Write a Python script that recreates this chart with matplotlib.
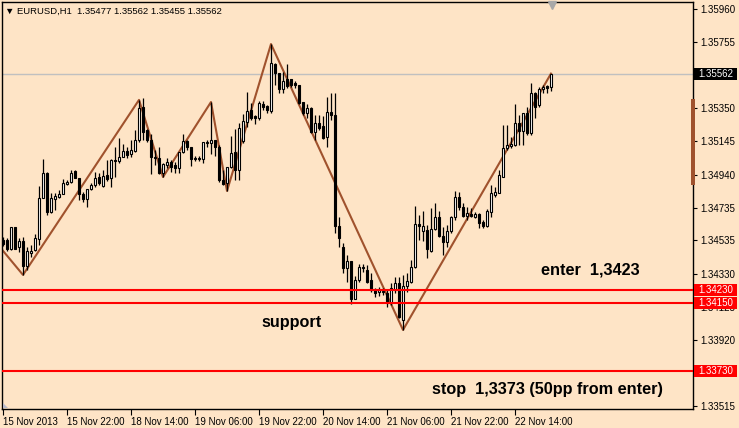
import numpy as np
import matplotlib.pyplot as plt
from matplotlib.patches import Rectangle, Polygon
from matplotlib.transforms import blended_transform_factory

plt.rcParams['font.family'] = ['Liberation Sans', 'DejaVu Sans']

# EURUSD H1 candles
opens = [1.34537, 1.34537, 1.34482, 1.34617, 1.34494, 1.34531, 1.34377, 1.34457, 1.34476, 1.34543,
         1.34796, 1.34950, 1.34710, 1.34790, 1.34802, 1.34821, 1.34882, 1.34894, 1.34962, 1.34919,
         1.34821, 1.34790, 1.34851, 1.34876, 1.34925, 1.34870, 1.34938, 1.34919, 1.35030, 1.35024,
         1.35048, 1.35085, 1.35067, 1.35085, 1.35153, 1.35356, 1.35215, 1.35153, 1.35042, 1.35042,
         1.34950, 1.34999, 1.35018, 1.34999, 1.34981, 1.35079, 1.35147, 1.35110, 1.35036, 1.35042,
         1.35036, 1.35135, 1.35135, 1.35153, 1.35110, 1.34907, 1.34888, 1.34987, 1.35079, 1.34968,
         1.35147, 1.35264, 1.35338, 1.35301, 1.35289, 1.35375, 1.35363, 1.35332, 1.35621, 1.35566,
         1.35467, 1.35529, 1.35529, 1.35504, 1.35492, 1.35387, 1.35319, 1.35350, 1.35202, 1.35258,
         1.35239, 1.35172, 1.35326, 1.35307, 1.34623, 1.34494, 1.34365, 1.34408, 1.34174, 1.34291,
         1.34371, 1.34352, 1.34291, 1.34229, 1.34217, 1.34217, 1.34211, 1.34149, 1.34229, 1.34272,
         1.34045, 1.34254, 1.34279, 1.34371, 1.34636, 1.34593, 1.34599, 1.34470, 1.34605, 1.34679,
         1.34562, 1.34525, 1.34593, 1.34679, 1.34802, 1.34741, 1.34685, 1.34697, 1.34679, 1.34697,
         1.34648, 1.34623, 1.34710, 1.34814, 1.34827, 1.34925, 1.35104, 1.35116, 1.35122, 1.35258,
         1.35209, 1.35319, 1.35196, 1.35443, 1.35369, 1.35467, 1.35486, 1.35477]
highs = [1.34556, 1.34550, 1.34617, 1.34617, 1.34550, 1.34556, 1.34494, 1.34506, 1.34574, 1.34870,
         1.35036, 1.34956, 1.34827, 1.34827, 1.34845, 1.34913, 1.34907, 1.34968, 1.34968, 1.34919,
         1.34833, 1.34851, 1.34888, 1.34956, 1.34950, 1.34968, 1.35030, 1.35036, 1.35110, 1.35165,
         1.35129, 1.35110, 1.35153, 1.35215, 1.35400, 1.35412, 1.35221, 1.35190, 1.35092, 1.35110,
         1.35011, 1.35042, 1.35030, 1.35018, 1.35079, 1.35190, 1.35153, 1.35110, 1.35055, 1.35055,
         1.35141, 1.35153, 1.35387, 1.35153, 1.35122, 1.34968, 1.34987, 1.35178, 1.35221, 1.35258,
         1.35313, 1.35449, 1.35381, 1.35307, 1.35393, 1.35393, 1.35369, 1.35744, 1.35627, 1.35566,
         1.35572, 1.35621, 1.35529, 1.35517, 1.35492, 1.35387, 1.35375, 1.35356, 1.35307, 1.35307,
         1.35301, 1.35418, 1.35443, 1.35443, 1.34679, 1.34519, 1.34445, 1.34408, 1.34316, 1.34389,
         1.34389, 1.34383, 1.34334, 1.34242, 1.34248, 1.34242, 1.34229, 1.34272, 1.34309, 1.34309,
         1.34322, 1.34334, 1.34414, 1.34747, 1.34691, 1.34716, 1.34630, 1.34734, 1.34765, 1.34716,
         1.34617, 1.34630, 1.34685, 1.34839, 1.34833, 1.34765, 1.34741, 1.34734, 1.34710, 1.34704,
         1.34660, 1.34728, 1.34876, 1.34864, 1.34968, 1.35246, 1.35246, 1.35172, 1.35375, 1.35307,
         1.35319, 1.35356, 1.35504, 1.35449, 1.35480, 1.35492, 1.35492, 1.35562]
lows = [1.34500, 1.34470, 1.34476, 1.34482, 1.34463, 1.34322, 1.34352, 1.34433, 1.34470, 1.34506,
        1.34796, 1.34691, 1.34704, 1.34722, 1.34796, 1.34821, 1.34876, 1.34888, 1.34919, 1.34784,
        1.34771, 1.34741, 1.34845, 1.34864, 1.34876, 1.34864, 1.34901, 1.34864, 1.34925, 1.35011,
        1.35048, 1.35042, 1.35048, 1.35079, 1.35141, 1.35153, 1.35141, 1.34944, 1.34999, 1.34944,
        1.34925, 1.34981, 1.34956, 1.34950, 1.34950, 1.35073, 1.35092, 1.34993, 1.35024, 1.35024,
        1.35011, 1.35110, 1.35067, 1.35055, 1.34894, 1.34876, 1.34839, 1.34981, 1.34907, 1.34907,
        1.35135, 1.35233, 1.35276, 1.35252, 1.35276, 1.35338, 1.35319, 1.35319, 1.35492, 1.35443,
        1.35443, 1.35473, 1.35480, 1.35473, 1.35375, 1.35307, 1.35289, 1.35196, 1.35153, 1.35215,
        1.35159, 1.35110, 1.35276, 1.34580, 1.34494, 1.34334, 1.34279, 1.34143, 1.34174, 1.34279,
        1.34340, 1.34272, 1.34217, 1.34186, 1.34192, 1.34198, 1.34125, 1.34137, 1.34211, 1.34057,
        1.33983, 1.34217, 1.34272, 1.34365, 1.34537, 1.34531, 1.34426, 1.34463, 1.34599, 1.34556,
        1.34445, 1.34494, 1.34580, 1.34660, 1.34722, 1.34679, 1.34660, 1.34679, 1.34673, 1.34611,
        1.34611, 1.34617, 1.34679, 1.34802, 1.34827, 1.34925, 1.35092, 1.35104, 1.35116, 1.35122,
        1.35122, 1.35184, 1.35184, 1.35289, 1.35356, 1.35443, 1.35443, 1.35455]
closes = [1.34513, 1.34482, 1.34617, 1.34482, 1.34531, 1.34377, 1.34470, 1.34470, 1.34550, 1.34796,
          1.34950, 1.34710, 1.34796, 1.34808, 1.34821, 1.34888, 1.34894, 1.34950, 1.34919, 1.34821,
          1.34790, 1.34851, 1.34876, 1.34919, 1.34888, 1.34931, 1.34913, 1.35030, 1.35024, 1.35048,
          1.35085, 1.35061, 1.35092, 1.35153, 1.35350, 1.35202, 1.35153, 1.35048, 1.35048, 1.34950,
          1.35005, 1.35018, 1.34987, 1.34981, 1.35079, 1.35147, 1.35110, 1.35036, 1.35042, 1.35036,
          1.35141, 1.35141, 1.35153, 1.35110, 1.34907, 1.34882, 1.34987, 1.35073, 1.34968, 1.35227,
          1.35270, 1.35332, 1.35289, 1.35289, 1.35381, 1.35356, 1.35338, 1.35627, 1.35566, 1.35467,
          1.35517, 1.35486, 1.35492, 1.35492, 1.35381, 1.35319, 1.35350, 1.35202, 1.35258, 1.35227,
          1.35165, 1.35326, 1.35307, 1.34623, 1.34550, 1.34365, 1.34408, 1.34174, 1.34291, 1.34371,
          1.34365, 1.34279, 1.34229, 1.34211, 1.34229, 1.34223, 1.34149, 1.34242, 1.34272, 1.34063,
          1.34254, 1.34285, 1.34371, 1.34636, 1.34623, 1.34623, 1.34482, 1.34605, 1.34679, 1.34562,
          1.34525, 1.34593, 1.34679, 1.34802, 1.34741, 1.34685, 1.34704, 1.34685, 1.34697, 1.34642,
          1.34623, 1.34716, 1.34827, 1.34833, 1.34938, 1.35104, 1.35122, 1.35129, 1.35258, 1.35209,
          1.35319, 1.35196, 1.35443, 1.35356, 1.35467, 1.35480, 1.35473, 1.35562]

# zigzag vertices (bar index, price)
zz_bars = [-1, 5, 34, 40, 52, 56, 67, 100, 137]
zz_prices = [1.34500, 1.34322, 1.35400, 1.34925, 1.35387, 1.34839, 1.35744, 1.33983, 1.35562]

level_prices = [1.34230, 1.34150, 1.33730]
last_price = 1.35562

time_ticks = [0, 16, 32, 48, 64, 80, 96, 112, 128]
time_labels = ['15 Nov 2013', '15 Nov 22:00', '18 Nov 14:00', '19 Nov 06:00', '19 Nov 22:00',
               '20 Nov 14:00', '21 Nov 06:00', '21 Nov 22:00', '22 Nov 14:00']
price_ticks = [1.35960, 1.35755, 1.35550, 1.35350, 1.35145, 1.34940, 1.34735, 1.34535,
               1.34330, 1.34125, 1.33920, 1.33720, 1.33515]
# labels hidden under the price boxes
hidden_ticks = [1.35550, 1.33720]

bg = '#FEE4C6'
W, H = 739, 428
fig = plt.figure(figsize=(W / 100, H / 100), dpi=100, facecolor=bg)
ax = fig.add_axes([2 / W, 19 / H, 691 / W, 407 / H], facecolor=bg)

o = np.array(opens)
c = np.array(closes)
x = np.arange(len(o))
up = c >= o

ax.axhline(last_price, color='#C0C0C0', lw=1, zorder=1)
ax.plot(zz_bars, zz_prices, color='#A0522D', lw=1.5, zorder=2)
ax.vlines(x, lows, highs, color='black', lw=0.9, zorder=3)
ax.bar(x, np.abs(c - o), bottom=np.minimum(o, c), width=0.62,
       color=np.where(up, 'white', 'black'), edgecolor='black', linewidth=0.8, zorder=4)

for p in level_prices:
    ax.axhline(p, color='#FF0000', lw=1.5, zorder=5)

ax.set_xlim(-0.25, 172.5)
ax.set_ylim(1.33496, 1.36003)

ax.yaxis.tick_right()
ax.set_yticks(price_ticks)
ax.set_yticklabels(['' if p in hidden_ticks else f'{p:.5f}' for p in price_ticks])
ax.tick_params(axis='y', direction='out', length=3, width=0.8, pad=2, labelsize=7)
ax.set_xticks(time_ticks)
ax.set_xticklabels(time_labels)
ax.tick_params(axis='x', direction='out', length=4, width=0.8, pad=2, labelsize=7)
for lab in ax.get_xticklabels():
    lab.set_horizontalalignment('left')
for s in ax.spines.values():
    s.set_linewidth(1)

# price boxes on the right scale
trans = blended_transform_factory(ax.transAxes, ax.transData)
box_prices = [last_price] + level_prices
box_colors = ['black', '#FF0000', '#FF0000', '#FF0000']
for p, col in zip(box_prices, box_colors):
    ax.add_patch(Rectangle((1.0015, p - 0.00037), 0.062, 0.00074, transform=trans,
                           facecolor=col, edgecolor='none', clip_on=False, zorder=10))
    ax.text(1.0075, p, f'{p:.5f}', transform=trans, color='white', fontsize=7,
            va='center', ha='left', clip_on=False, zorder=11)

# marker on the scale and small triangles
fig.add_artist(Rectangle((691 / W, 1 - 185 / H), 4 / W, 86 / H, transform=fig.transFigure,
                         facecolor='#A0522D', edgecolor='none'))
fig.add_artist(plt.Line2D([552 / W], [1 - 5 / H], marker='v', color='#A8A8A8', ms=6,
                          transform=fig.transFigure))
fig.add_artist(Polygon([[3 / W, 1 - 403 / H], [3 / W, 1 - 408 / H], [8 / W, 1 - 408 / H]],
                       closed=True, transform=fig.transFigure, facecolor='#B8B8C8',
                       edgecolor='none'))

fig.text(5 / W, 1 - 11 / H, '\u25bc EURUSD,H1  1.35477 1.35562 1.35455 1.35562',
         fontsize=6.8, va='center', ha='left')

ax.text(134.5, 1.34322, 'enter  1,3423', fontsize=11.7, fontweight='bold', ha='left', va='baseline', zorder=12)
ax.text(64.5, 1.34001, 'support', fontsize=11.7, fontweight='bold', ha='left', va='baseline', zorder=12)
ax.text(107.2, 1.33589, 'stop  1,3373 (50pp from enter)', fontsize=11.7, fontweight='bold',
        ha='left', va='baseline', zorder=12)

fig.savefig('out.png', dpi=100, facecolor=bg)
